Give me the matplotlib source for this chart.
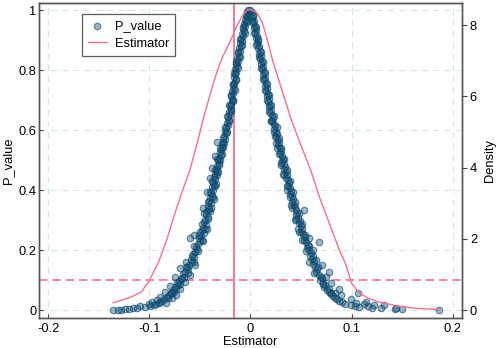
"""Placebo test: P_value scatter and estimator density."""

import matplotlib
matplotlib.use("Agg")
import matplotlib.pyplot as plt

plt.rcParams["font.family"] = ["Liberation Sans", "DejaVu Sans"]

# left branch of the scatter (estimator < 0)
left_est = [
    -0.002, -0.003, -0.002, -0.004, -0.003, -0.005, -0.004, -0.006, -0.005, -0.007,
    -0.006, -0.008, -0.007, -0.009, -0.008, -0.010, -0.009, -0.011, -0.010, -0.012,
    -0.011, -0.013, -0.012, -0.014, -0.013, -0.015, -0.014, -0.015, -0.016, -0.014,
    -0.016, -0.017, -0.016, -0.018, -0.017, -0.019, -0.018, -0.017, -0.019, -0.020,
    -0.019, -0.021, -0.020, -0.022, -0.021, -0.023, -0.022, -0.024, -0.025, -0.024,
    -0.026, -0.025, -0.027, -0.028, -0.027, -0.029, -0.030, -0.029, -0.031, -0.032,
    -0.031, -0.033, -0.034, -0.033, -0.035, -0.036, -0.035, -0.037, -0.036, -0.038,
    -0.037, -0.039, -0.038, -0.040, -0.041, -0.039, -0.042, -0.041, -0.043, -0.044,
    -0.042, -0.045, -0.046, -0.044, -0.047, -0.048, -0.046, -0.049, -0.051, -0.050,
    -0.052, -0.054, -0.053, -0.055, -0.057, -0.056, -0.059, -0.058, -0.061, -0.063,
    -0.062, -0.065, -0.067, -0.066, -0.069, -0.071, -0.073, -0.072, -0.075, -0.077,
    -0.076, -0.079, -0.081, -0.083, -0.082, -0.086, -0.088, -0.090, -0.091, -0.094,
    -0.096, -0.099, -0.100, -0.104, -0.109, -0.112, -0.116, -0.120, -0.124, -0.128,
    -0.131, -0.136,
    -0.060, -0.047, -0.056, -0.050, -0.043, -0.064, -0.055, -0.070, -0.060, -0.075,
    -0.065, -0.080, -0.070, -0.085, -0.074, -0.090, -0.078, -0.093, -0.084, -0.097,
    -0.040, -0.047, -0.036, -0.043, -0.034, -0.040, -0.032, -0.038, -0.030, -0.035,
    -0.028, -0.033,
    -0.004, -0.003, -0.007, -0.005, -0.010, -0.008, -0.012, -0.010, -0.014, -0.012,
    -0.016, -0.014, -0.017, -0.015, -0.019, -0.017, -0.021, -0.019, -0.023, -0.021,
    -0.025, -0.023, -0.027, -0.026, -0.030, -0.028, -0.033, -0.031, -0.035, -0.033,
    -0.038, -0.035, -0.040, -0.037, -0.042, -0.039, -0.046, -0.042, -0.048, -0.045,
    -0.051, -0.048, -0.056, -0.052, -0.058, -0.056, -0.064, -0.062, -0.068, -0.070,
    -0.074, -0.078,
]
left_p = [
    1.000, 0.995, 0.990, 0.982, 0.976, 0.968, 0.960, 0.952, 0.946, 0.938,
    0.930, 0.921, 0.913, 0.905, 0.897, 0.889, 0.880, 0.872, 0.864, 0.856,
    0.847, 0.838, 0.830, 0.821, 0.812, 0.803, 0.795, 0.786, 0.776, 0.767,
    0.758, 0.749, 0.740, 0.731, 0.722, 0.713, 0.704, 0.696, 0.688, 0.679,
    0.670, 0.661, 0.652, 0.643, 0.634, 0.625, 0.616, 0.607, 0.598, 0.589,
    0.580, 0.571, 0.562, 0.553, 0.544, 0.535, 0.526, 0.517, 0.508, 0.499,
    0.490, 0.481, 0.472, 0.463, 0.454, 0.445, 0.436, 0.427, 0.418, 0.409,
    0.400, 0.391, 0.382, 0.373, 0.364, 0.356, 0.347, 0.338, 0.329, 0.320,
    0.311, 0.302, 0.293, 0.284, 0.275, 0.266, 0.257, 0.248, 0.239, 0.230,
    0.221, 0.212, 0.203, 0.195, 0.186, 0.177, 0.168, 0.160, 0.152, 0.144,
    0.136, 0.128, 0.120, 0.112, 0.104, 0.097, 0.090, 0.083, 0.076, 0.069,
    0.062, 0.056, 0.050, 0.045, 0.040, 0.036, 0.032, 0.028, 0.024, 0.021,
    0.018, 0.015, 0.021, 0.012, 0.013, 0.008, 0.006, 0.004, 0.003, 0.002,
    0.001, 0.000,
    0.240, 0.232, 0.250, 0.262, 0.270, 0.160, 0.150, 0.140, 0.118, 0.110,
    0.095, 0.080, 0.070, 0.060, 0.052, 0.045, 0.040, 0.035, 0.025, 0.028,
    0.330, 0.340, 0.372, 0.395, 0.420, 0.440, 0.460, 0.475, 0.500, 0.515,
    0.545, 0.560,
    0.985, 0.965, 0.943, 0.925, 0.902, 0.884, 0.861, 0.843, 0.826, 0.808,
    0.790, 0.771, 0.753, 0.735, 0.717, 0.700, 0.683, 0.665, 0.647, 0.629,
    0.611, 0.593, 0.575, 0.557, 0.539, 0.521, 0.503, 0.485, 0.467, 0.449,
    0.431, 0.413, 0.395, 0.377, 0.359, 0.341, 0.323, 0.305, 0.287, 0.269,
    0.251, 0.233, 0.215, 0.197, 0.179, 0.161, 0.143, 0.125, 0.107, 0.089,
    0.071, 0.058,
]

# right branch of the scatter (estimator >= 0)
right_est = [
    0.000, 0.001, -0.001, 0.002, 0.001, 0.003, 0.002, 0.004, 0.003, 0.005,
    0.004, 0.006, 0.005, 0.007, 0.006, 0.008, 0.007, 0.009, 0.008, 0.010,
    0.009, 0.011, 0.010, 0.012, 0.011, 0.013, 0.012, 0.014, 0.013, 0.015,
    0.014, 0.016, 0.015, 0.017, 0.016, 0.018, 0.017, 0.019, 0.018, 0.020,
    0.019, 0.021, 0.022, 0.021, 0.023, 0.024, 0.023, 0.025, 0.026, 0.025,
    0.027, 0.028, 0.027, 0.029, 0.030, 0.029, 0.031, 0.032, 0.031, 0.033,
    0.034, 0.033, 0.035, 0.036, 0.035, 0.037, 0.038, 0.037, 0.039, 0.040,
    0.039, 0.041, 0.042, 0.041, 0.043, 0.044, 0.045, 0.046, 0.045, 0.047,
    0.049, 0.048, 0.050, 0.051, 0.050, 0.052, 0.054, 0.053, 0.055, 0.057,
    0.056, 0.058, 0.060, 0.059, 0.061, 0.063, 0.062, 0.064, 0.066, 0.065,
    0.068, 0.070, 0.069, 0.072, 0.074, 0.073, 0.076, 0.078, 0.080, 0.082,
    0.084, 0.086, 0.088, 0.091, 0.094, 0.099, 0.103, 0.107, 0.112, 0.116,
    0.120, 0.129, 0.143, 0.150, 0.187,
    0.048, 0.068, 0.053, 0.065, 0.078, 0.088, 0.084, 0.099, 0.104, 0.106,
    0.114, 0.122, 0.132, 0.144, 0.058, 0.062, 0.071, 0.075, 0.080, 0.090,
    0.044, 0.040, 0.036, 0.032, 0.030, 0.026, 0.024, 0.020,
    0.002, 0.001, 0.005, 0.003, 0.007, 0.005, 0.010, 0.008, 0.012, 0.010,
    0.014, 0.012, 0.016, 0.014, 0.018, 0.016, 0.020, 0.018, 0.023, 0.020,
    0.026, 0.023, 0.028, 0.025, 0.030, 0.028, 0.033, 0.030, 0.036, 0.033,
    0.039, 0.036, 0.042, 0.039, 0.044, 0.041, 0.048, 0.045, 0.051, 0.047,
    0.054, 0.051, 0.058, 0.055, 0.062, 0.058, 0.067, 0.063, 0.071, 0.072,
    0.078, 0.080,
]
right_p = [
    1.000, 0.994, 0.988, 0.980, 0.972, 0.964, 0.956, 0.948, 0.940, 0.932,
    0.924, 0.915, 0.907, 0.898, 0.890, 0.881, 0.872, 0.864, 0.855, 0.846,
    0.838, 0.829, 0.820, 0.811, 0.802, 0.793, 0.784, 0.775, 0.766, 0.757,
    0.748, 0.739, 0.730, 0.721, 0.712, 0.703, 0.694, 0.685, 0.676, 0.667,
    0.658, 0.649, 0.640, 0.631, 0.622, 0.613, 0.604, 0.595, 0.586, 0.577,
    0.568, 0.559, 0.550, 0.541, 0.532, 0.523, 0.514, 0.505, 0.496, 0.487,
    0.478, 0.469, 0.460, 0.451, 0.442, 0.433, 0.424, 0.415, 0.406, 0.397,
    0.388, 0.379, 0.370, 0.361, 0.352, 0.343, 0.334, 0.325, 0.316, 0.307,
    0.298, 0.289, 0.280, 0.271, 0.262, 0.253, 0.244, 0.235, 0.226, 0.217,
    0.208, 0.199, 0.190, 0.181, 0.172, 0.163, 0.154, 0.145, 0.136, 0.127,
    0.118, 0.109, 0.100, 0.092, 0.084, 0.076, 0.068, 0.061, 0.054, 0.047,
    0.041, 0.036, 0.031, 0.027, 0.022, 0.018, 0.014, 0.012, 0.020, 0.015,
    0.009, 0.008, 0.004, 0.003, 0.000,
    0.260, 0.228, 0.333, 0.167, 0.128, 0.072, 0.056, 0.039, 0.024, 0.058,
    0.028, 0.017, 0.017, 0.009, 0.240, 0.200, 0.150, 0.110, 0.090, 0.050,
    0.300, 0.350, 0.400, 0.455, 0.490, 0.540, 0.580, 0.630,
    0.985, 0.965, 0.943, 0.925, 0.902, 0.884, 0.861, 0.843, 0.826, 0.808,
    0.790, 0.771, 0.753, 0.735, 0.717, 0.700, 0.683, 0.665, 0.647, 0.629,
    0.611, 0.593, 0.575, 0.557, 0.539, 0.521, 0.503, 0.485, 0.467, 0.449,
    0.431, 0.413, 0.395, 0.377, 0.359, 0.341, 0.323, 0.305, 0.287, 0.269,
    0.251, 0.233, 0.215, 0.197, 0.179, 0.161, 0.143, 0.125, 0.107, 0.089,
    0.071, 0.058,
]

# kernel density of the estimator (right axis)
dens_x = [
    -0.136, -0.119, -0.108, -0.100, -0.091, -0.083, -0.075, -0.068, -0.060, -0.052,
    -0.045, -0.038, -0.032, -0.027, -0.020, -0.014, -0.008, -0.003, 0.002, 0.007,
    0.012, 0.017, 0.022, 0.027, 0.032, 0.041, 0.051, 0.060, 0.068, 0.078,
    0.088, 0.094, 0.100, 0.107, 0.117, 0.127, 0.147, 0.166, 0.188,
]
dens_y = [
    0.21, 0.36, 0.51, 0.84, 1.35, 1.97, 2.70, 3.30, 3.93, 4.78,
    5.55, 6.25, 6.80, 7.15, 7.55, 7.95, 8.27, 8.43, 8.43, 8.33,
    8.05, 7.55, 7.00, 6.55, 6.10, 5.30, 4.55, 3.90, 3.20, 2.44,
    1.69, 1.31, 0.76, 0.50, 0.33, 0.23, 0.11, 0.05, 0.02,
]

true_est = -0.0165
p_cut = 0.1

fig = plt.figure(figsize=(4.98, 3.48), dpi=100)
ax = fig.add_axes([0.079, 0.087, 0.848, 0.904])
ax2 = ax.twinx()

grid_col = "#dbe6ea"
for gx in [-0.2, -0.1, 0, 0.1, 0.2]:
    ax.axvline(gx, color=grid_col, lw=0.9, ls=(0, (5, 4)), zorder=0)
for gy in [0, 0.2, 0.4, 0.6, 0.8, 1.0]:
    ax.axhline(gy, color=grid_col, lw=0.9, ls=(0, (5, 4)), zorder=0)

pts = ax.scatter(
    left_est + right_est,
    left_p + right_p,
    s=22,
    facecolor=(0.05, 0.30, 0.45, 0.40),
    edgecolor=(0.04, 0.28, 0.43, 0.62),
    linewidths=0.8,
    zorder=3,
    label="P_value",
)

pink = "#f4728c"
ax.axvline(true_est, color=pink, lw=1.3, zorder=2)
ax.axhline(p_cut, color=pink, lw=1.2, ls=(0, (5, 3)), zorder=2)

(dline,) = ax2.plot(dens_x, dens_y, color=pink, lw=1.0, label="Estimator")

ax.set_xlim(-0.209, 0.209)
ax.set_ylim(-0.025, 1.023)
ax2.set_ylim(-0.21, 8.62)

ax.set_xticks([-0.2, -0.1, 0, 0.1, 0.2])
ax.set_xticklabels(["-0.2", "-0.1", "0", "0.1", "0.2"])
ax.set_yticks([0, 0.2, 0.4, 0.6, 0.8, 1.0])
ax.set_yticklabels(["0", "0.2", "0.4", "0.6", "0.8", "1"])
ax2.set_yticks([0, 2, 4, 6, 8])

ax.tick_params(axis="x", direction="in", labelsize=9.3, length=3, width=0.8,
               color="#444444", pad=3.6)
ax.tick_params(axis="y", direction="in", labelsize=9.3, length=3, width=0.8,
               color="#444444", pad=2)
ax2.tick_params(axis="y", direction="out", labelsize=9.3, length=3.5, width=0.8,
                color="#444444", pad=2.4)
for a in (ax, ax2):
    for sp in a.spines.values():
        sp.set_color("#555555")
        sp.set_linewidth(1.0)

ax.set_xlabel("Estimator", fontsize=9.3, labelpad=1)
ax.set_ylabel("P_value", fontsize=9.3, labelpad=3)
ax2.set_ylabel("Density", fontsize=9.3, labelpad=5)

leg = ax.legend(
    [pts, dline],
    ["P_value", "Estimator"],
    loc="upper left",
    bbox_to_anchor=(0.085, 0.985),
    fontsize=9.3,
    frameon=True,
    fancybox=False,
    edgecolor="#333333",
    borderpad=0.45,
    handlelength=1.5,
    handletextpad=0.6,
    labelspacing=0.45,
)
leg.get_frame().set_linewidth(0.9)

fig.savefig("out.png", dpi=100)
